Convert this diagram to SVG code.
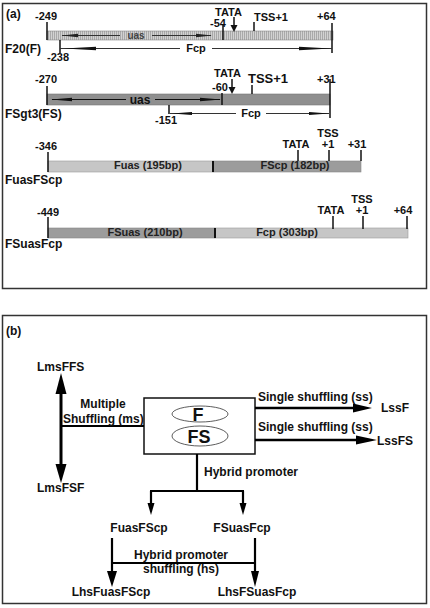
<svg xmlns="http://www.w3.org/2000/svg" width="430" height="608" viewBox="0 0 430 608">
<style>
text{font-family:"Liberation Sans",Arial,sans-serif;font-weight:bold;fill:#111}
.lbl{font-size:12px}
.num{font-size:11px}
.in{font-size:11px;fill:#222}
.tk{stroke:#111;stroke-width:1.5}
.thin{stroke:#333;stroke-width:1;fill:none}
.c{stroke:#000;stroke-width:2.2;fill:none}
.frame{fill:none;stroke:#333;stroke-width:1.5}
</style>
<defs>
<pattern id="hatch" width="2" height="10" patternUnits="userSpaceOnUse">
<rect width="2" height="10" fill="#d2d2d2"/>
<rect width="1" height="10" fill="#a9a9a9"/>
</pattern>
</defs>

<!-- panel a -->
<rect class="frame" x="2.5" y="3.5" width="424" height="285"/>
<text class="lbl" x="6" y="18">(a)</text>

<g id="F20">
<rect x="47" y="31" width="286" height="9" fill="url(#hatch)" stroke="#888" stroke-width="0.6"/>
<line class="tk" x1="47" y1="22" x2="47" y2="40"/>
<text class="num" x="35" y="20">-249</text>
<line class="tk" x1="60" y1="40" x2="60" y2="53"/>
<text class="num" x="47" y="61">-238</text>
<text class="lbl" x="5" y="53">F20(F)</text>
<line class="thin" x1="62" y1="35.5" x2="120" y2="35.5"/>
<polygon points="62,35.5 78,33.8 78,37.2" fill="#222"/>
<text x="136" y="39" text-anchor="middle" style="font-size:10px;fill:#444">uas</text>
<line class="thin" x1="152" y1="35.5" x2="211" y2="35.5"/>
<polygon points="212,35.5 196,33.8 196,37.2" fill="#222"/>
<line class="tk" x1="223" y1="24" x2="223" y2="40"/>
<text class="num" x="210" y="27">-54</text>
<text class="num" x="215" y="16">TATA</text>
<line class="tk" x1="234" y1="17" x2="234" y2="27"/>
<polygon points="230.5,25 237.5,25 234,32" fill="#111"/>
<line class="tk" x1="254" y1="22" x2="254" y2="31"/>
<text class="num" x="254" y="21">TSS+1</text>
<text class="num" x="317" y="20">+64</text>
<line class="tk" x1="332" y1="23" x2="332" y2="53"/>
<line class="thin" x1="60" y1="48.5" x2="180" y2="48.5"/>
<polygon points="64,48.5 96,46.8 96,50.2" fill="#111"/>
<text x="196" y="52" text-anchor="middle" style="font-size:11px">Fcp</text>
<line class="thin" x1="212" y1="48.5" x2="332" y2="48.5"/>
<polygon points="331,48.5 299,46.8 299,50.2" fill="#111"/>
</g>

<g id="FSgt3">
<rect x="47" y="94" width="283" height="11" fill="#8f8f8f" stroke="#777" stroke-width="0.6"/>
<line class="tk" x1="47" y1="86" x2="47" y2="105"/>
<text class="num" x="35" y="83">-270</text>
<text class="lbl" x="5" y="118">FSgt3(FS)</text>
<line class="thin" x1="52" y1="99.5" x2="126" y2="99.5" style="stroke:#111"/>
<polygon points="51,99.5 72,97.7 72,101.3" fill="#111"/>
<text x="140" y="104" text-anchor="middle" style="font-size:12px;fill:#111">uas</text>
<line class="thin" x1="155" y1="99.5" x2="220" y2="99.5" style="stroke:#111"/>
<polygon points="221,99.5 200,97.7 200,101.3" fill="#111"/>
<line class="tk" x1="222" y1="93" x2="222" y2="105"/>
<text class="num" x="212" y="91">-60</text>
<text class="num" x="214" y="77">TATA</text>
<line class="tk" x1="232" y1="79" x2="232" y2="88"/>
<polygon points="228.5,87 235.5,87 232,94" fill="#111"/>
<line class="tk" x1="252" y1="85" x2="252" y2="94"/>
<text x="248" y="83" style="font-size:13px">TSS+1</text>
<text class="num" x="317" y="83">+31</text>
<line class="tk" x1="330" y1="79" x2="330" y2="118"/>
<line class="tk" x1="169" y1="105" x2="169" y2="114"/>
<text class="num" x="155" y="124">-151</text>
<line class="thin" x1="170" y1="113.5" x2="236" y2="113.5"/>
<polygon points="172,113.5 192,111.9 192,115.1" fill="#111"/>
<text x="251" y="117" text-anchor="middle" style="font-size:11px">Fcp</text>
<line class="thin" x1="266" y1="113.5" x2="329" y2="113.5"/>
<polygon points="329,113.5 309,111.9 309,115.1" fill="#111"/>
</g>

<g id="FuasFScp">
<rect x="48" y="161" width="165" height="11" fill="#c6c6c6" stroke="#999" stroke-width="0.6"/>
<rect x="213" y="161" width="148" height="11" fill="#9c9c9c" stroke="#888" stroke-width="0.6"/>
<line x1="213" y1="161" x2="213" y2="172" stroke="#111" stroke-width="2"/>
<line class="tk" x1="48" y1="152" x2="48" y2="172"/>
<text class="num" x="35" y="150">-346</text>
<text class="lbl" x="5" y="184">FuasFScp</text>
<text class="in" x="148" y="169" text-anchor="middle">Fuas (195bp)</text>
<text class="in" x="295" y="169" text-anchor="middle">FScp (182bp)</text>
<text class="num" x="296" y="148" text-anchor="middle">TATA</text>
<line class="tk" x1="298" y1="150" x2="298" y2="161"/>
<text class="num" x="328" y="137" text-anchor="middle">TSS</text>
<text class="num" x="328" y="148" text-anchor="middle">+1</text>
<line class="tk" x1="329" y1="150" x2="329" y2="161"/>
<text class="num" x="357" y="148" text-anchor="middle">+31</text>
<line class="tk" x1="361" y1="150" x2="361" y2="161"/>
</g>

<g id="FSuasFcp">
<rect x="48" y="228" width="167" height="10" fill="#9c9c9c" stroke="#888" stroke-width="0.6"/>
<rect x="215" y="228" width="193" height="10" fill="#c6c6c6" stroke="#999" stroke-width="0.6"/>
<line x1="215" y1="228" x2="215" y2="238" stroke="#111" stroke-width="2"/>
<line class="tk" x1="48" y1="217" x2="48" y2="238"/>
<text class="num" x="37" y="216">-449</text>
<text class="lbl" x="5" y="248">FSuasFcp</text>
<text class="in" x="145" y="236" text-anchor="middle">FSuas (210bp)</text>
<text class="in" x="287" y="236" text-anchor="middle">Fcp (303bp)</text>
<text class="num" x="331" y="214" text-anchor="middle">TATA</text>
<line class="tk" x1="333" y1="216" x2="333" y2="229"/>
<text class="num" x="362" y="203" text-anchor="middle">TSS</text>
<text class="num" x="362" y="214" text-anchor="middle">+1</text>
<line class="tk" x1="363" y1="216" x2="363" y2="229"/>
<text class="num" x="403" y="214" text-anchor="middle">+64</text>
<line class="tk" x1="407" y1="216" x2="407" y2="229"/>
</g>

<!-- panel b -->
<rect class="frame" x="2.5" y="315.5" width="424" height="288"/>
<text class="lbl" x="6" y="335">(b)</text>

<g id="box">
<rect x="144" y="398" width="111" height="56" fill="#fff" stroke="#111" stroke-width="1.5"/>
<ellipse cx="200" cy="414" rx="28" ry="8" fill="#fff" stroke="#333" stroke-width="0.8"/>
<text x="198" y="421" text-anchor="middle" style="font-size:18px">F</text>
<ellipse cx="200" cy="436" rx="28" ry="10" fill="#fff" stroke="#333" stroke-width="0.8"/>
<text x="199" y="443" text-anchor="middle" style="font-size:18px">FS</text>
</g>

<g id="nodes">
<text id="LmsFFS" class="lbl" x="37" y="371">LmsFFS</text>
<text id="LmsFSF" class="lbl" x="37" y="492">LmsFSF</text>
<text id="LssF" class="lbl" x="381" y="412">LssF</text>
<text id="LssFS" class="lbl" x="377" y="445">LssFS</text>
<text id="FuasFScp_b" class="lbl" x="139" y="532" text-anchor="middle">FuasFScp</text>
<text id="FSuasFcp_b" class="lbl" x="242" y="532" text-anchor="middle">FSuasFcp</text>
<text id="LhsFuasFScp" class="lbl" x="111" y="596" text-anchor="middle">LhsFuasFScp</text>
<text id="LhsFSuasFcp" class="lbl" x="257" y="596" text-anchor="middle">LhsFSuasFcp</text>
</g>

<g id="connectors">
<line x1="61" y1="392" x2="61" y2="466" stroke="#000" stroke-width="3"/>
<polygon points="61,373 55.5,394 66.5,394" fill="#000"/>
<polygon points="61,483 55.5,464 66.5,464" fill="#000"/>
<line class="c" x1="61" y1="426" x2="144" y2="426"/>
<text class="lbl" x="103" y="408" text-anchor="middle">Multiple</text>
<text class="lbl" x="63" y="423">Shuffling (ms)</text>

<line class="c" x1="255" y1="408" x2="355" y2="408" style="stroke-width:2.5"/>
<polygon points="353,403.5 372,408 353,412.5" fill="#000"/>
<text class="lbl" x="258" y="401">Single shuffling (ss)</text>
<line class="c" x1="255" y1="440" x2="360" y2="440" style="stroke-width:2.5"/>
<polygon points="356,435.5 377,440 356,444.5" fill="#000"/>
<text class="lbl" x="258" y="431">Single shuffling (ss)</text>

<line class="c" x1="197" y1="454" x2="197" y2="491"/>
<text class="lbl" x="204" y="476">Hybrid promoter</text>
<line class="c" x1="150" y1="491" x2="244" y2="491"/>
<line class="c" x1="151" y1="491" x2="151" y2="505"/>
<polygon points="147.5,503 154.5,503 151,515" fill="#000"/>
<line class="c" x1="243" y1="491" x2="243" y2="505"/>
<polygon points="239.5,503 246.5,503 243,515" fill="#000"/>

<line class="c" x1="112" y1="538" x2="112" y2="574"/>
<line class="c" x1="255" y1="538" x2="255" y2="574"/>
<line class="c" x1="112" y1="563" x2="255" y2="563"/>
<polygon points="107,571 117,571 112,587" fill="#000"/>
<polygon points="251,571 259,571 255,587" fill="#000"/>
<text class="lbl" x="181" y="559" text-anchor="middle">Hybrid promoter</text>
<text class="lbl" x="181" y="573" text-anchor="middle">shuffling (hs)</text>
</g>
</svg>
